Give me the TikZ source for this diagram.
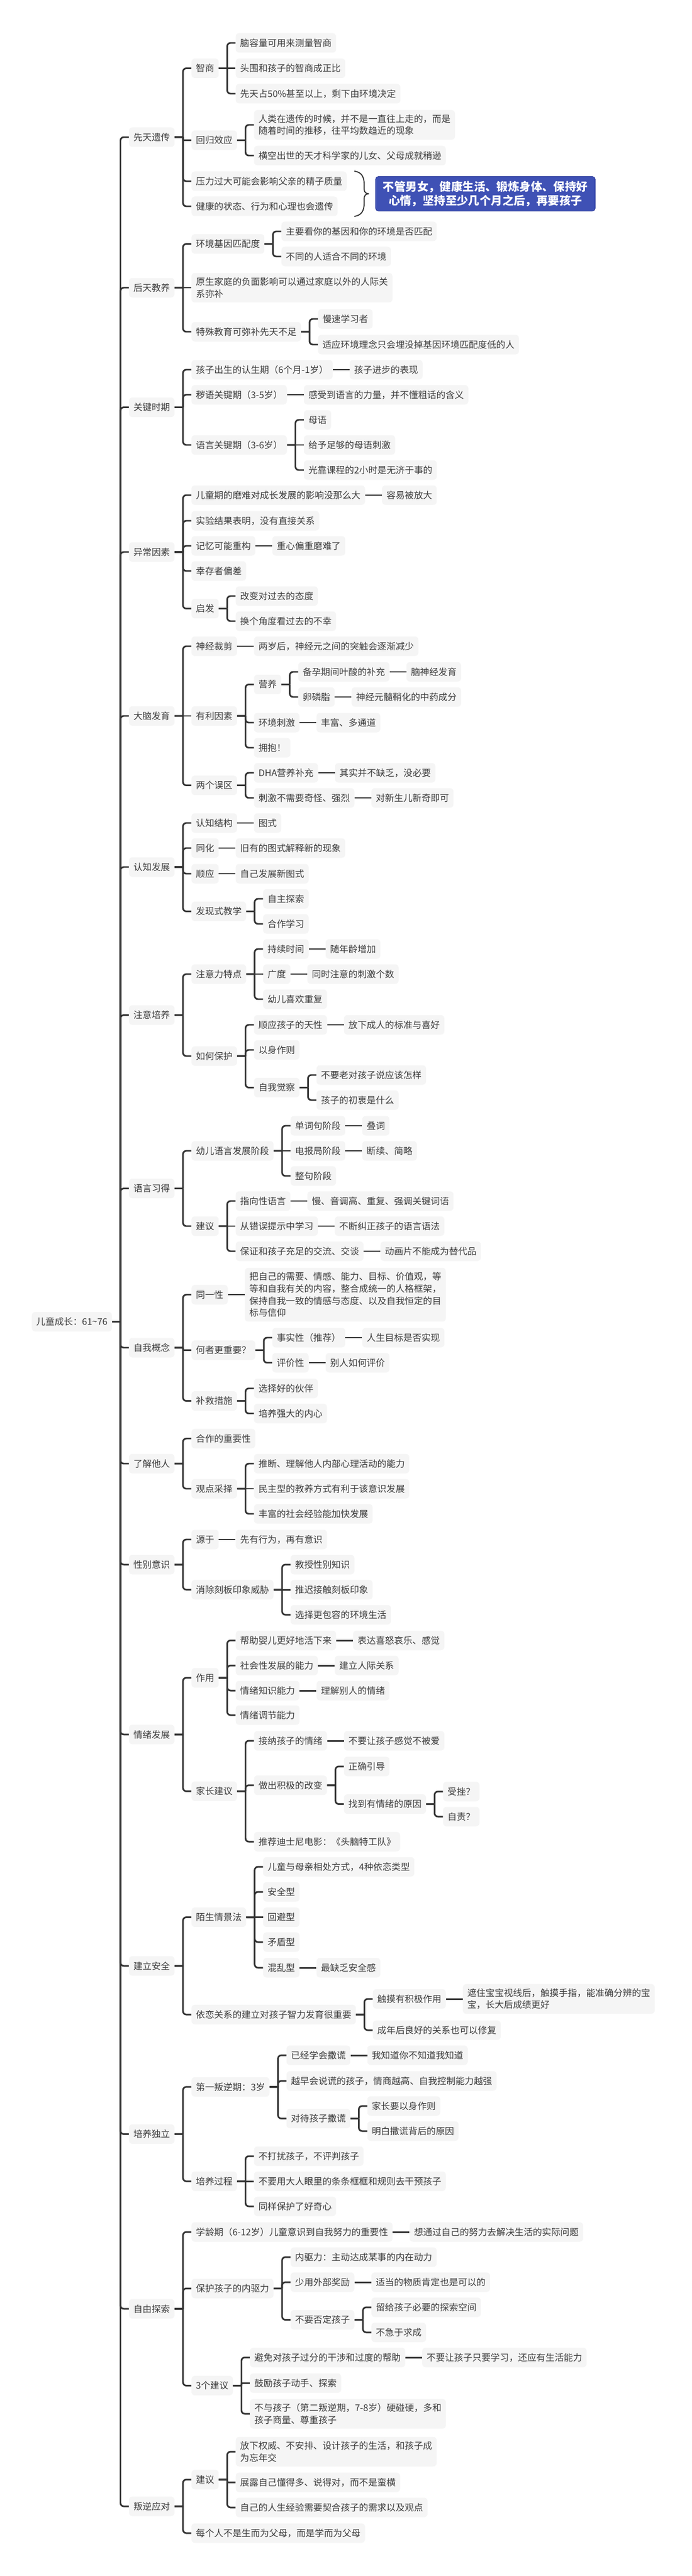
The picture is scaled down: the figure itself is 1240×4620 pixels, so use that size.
\documentclass[tikz,border=0pt]{standalone}
\usepackage{fontspec}
\newfontfamily\cjk{Noto Sans CJK SC}
\usetikzlibrary{calc}
\definecolor{boxbg}{HTML}{F5F5F5}
\definecolor{txt}{HTML}{3C3C3C}
\definecolor{ln}{HTML}{333333}
\definecolor{noteblue}{HTML}{3F51B5}
\definecolor{noteedge}{HTML}{2F3E9E}
\tikzset{
  box/.style={fill=boxbg, rounded corners=4.5pt, text=txt,
    font=\cjk\fontsize{12.3}{16.3}\selectfont, align=left,
    inner xsep=6pt, inner ysep=6pt, minimum height=26.25pt},
  conn/.style={draw=ln, line width=2.2pt},
  bracel/.style={draw=ln, line width=1.4pt, line cap=round},
  notebox/.style={fill=noteblue, draw=noteedge, line width=0.8pt, rounded corners=4pt,
    text=white, font=\cjk\bfseries\fontsize{15.3}{18.8}\selectfont, align=center,
    inner xsep=10pt, inner ysep=6pt, minimum height=46.5pt}
}
% child at explicit y, curved elbow connector
\newcommand{\mmn}[5][4.5pt]{%
  \node[box,anchor=west] (#2) at ($(#3.east|-0,#4)+(30,0)$) {#5};
  \draw[conn,rounded corners=#1] (#3.east) -- ++(15,0) ++(0,0) |- (#2.west);}
% child at the parent's height, straight connector
\newcommand{\mms}[3]{%
  \node[box,anchor=west] (#1) at ($(#2.east)+(30,0)$) {#3};
  \draw[conn] (#2.east) -- (#1.west);}
\begin{document}
\begin{tikzpicture}[x=0.75pt,y=-0.75pt]
\useasboundingbox (0,0) rectangle (1240,4620);
\node[box,anchor=east] (root) at (201,2370.5) {儿童成长：61\textasciitilde 76};
% level 1
\mmn{a}{root}{246}{先天遗传}
\mmn{b}{root}{516}{后天教养}
\mmn{c}{root}{730.5}{关键时期}
\mmn{d}{root}{990}{异常因素}
\mmn{e}{root}{1284}{大脑发育}
\mmn{f}{root}{1555}{认知发展}
\mmn{g}{root}{1820.5}{注意培养}
\mmn{h}{root}{2131.5}{语言习得}
\mmn{i}{root}{2417}{自我概念}
\mmn{j}{root}{2625}{了解他人}
\mmn{k}{root}{2806}{性别意识}
\mmn{l}{root}{3110.75}{情绪发展}
\mmn{m}{root}{3525.75}{建立安全}
\mmn{n}{root}{3827.4}{培养独立}
\mmn{o}{root}{4140.75}{自由探索}
\mmn{p}{root}{4495}{叛逆应对}
% 先天遗传
\mmn{a1}{a}{122.5}{智商}
\mmn[1.5pt]{a2}{a}{251.5}{回归效应}
\mmn{a3}{a}{325}{压力过大可能会影响父亲的精子质量}
\mmn{a4}{a}{370}{健康的状态、行为和心理也会遗传}
\mmn{a11}{a1}{77}{脑容量可用来测量智商}
\mms{a12}{a1}{头围和孩子的智商成正比}
\mmn{a13}{a1}{168}{先天占50\%甚至以上，剩下由环境决定}
\mmn{a21}{a2}{224}{人类在遗传的时候，并不是一直往上走的，而是\\随着时间的推移，往平均数趋近的现象}
\mmn{a22}{a2}{279}{横空出世的天才科学家的儿女、父母成就稍逊}
\coordinate (brT) at (636,307);
\coordinate (brM) at (661,347.5);
\coordinate (brB) at (636,388);
\draw[bracel] (brT) .. controls (649,309) and (653,318) .. (653,330) -- (653,339) .. controls (653,344) and (656,347.5) .. (brM);
\draw[bracel] (brM) .. controls (656,347.5) and (653,351) .. (653,356) -- (653,365) .. controls (653,377) and (649,386) .. (brB);
\node[notebox,anchor=west] (note) at (673,347.5) {不管男女，健康生活、锻炼身体、保持好\\心情，坚持至少几个月之后，再要孩子};
% 后天教养
\mmn{b1}{b}{437.5}{环境基因匹配度}
\mms{b2}{b}{原生家庭的负面影响可以通过家庭以外的人际关\\系弥补}
\mmn{b3}{b}{595}{特殊教育可弥补先天不足}
\mmn{b11}{b1}{415}{主要看你的基因和你的环境是否匹配}
\mmn{b12}{b1}{460}{不同的人适合不同的环境}
\mmn{b31}{b3}{572}{慢速学习者}
\mmn{b32}{b3}{618}{适应环境理念只会埋没掉基因环境匹配度低的人}
% 关键时期
\mmn{c1}{c}{663}{孩子出生的认生期（6个月-1岁）}
\mmn{c2}{c}{708}{秽语关键期（3-5岁）}
\mmn{c3}{c}{798}{语言关键期（3-6岁）}
\mms{c11}{c1}{孩子进步的表现}
\mms{c21}{c2}{感受到语言的力量，并不懂粗话的含义}
\mmn{c31}{c3}{753}{母语}
\mms{c32}{c3}{给予足够的母语刺激}
\mmn{c33}{c3}{843}{光靠课程的2小时是无济于事的}
% 异常因素
\mmn{d1}{d}{888}{儿童期的磨难对成长发展的影响没那么大}
\mmn{d2}{d}{934}{实验结果表明，没有直接关系}
\mmn{d3}{d}{979}{记忆可能重构}
\mmn{d4}{d}{1024}{幸存者偏差}
\mmn{d5}{d}{1091.5}{启发}
\mms{d11}{d1}{容易被放大}
\mms{d31}{d3}{重心偏重磨难了}
\mmn{d51}{d5}{1069}{改变对过去的态度}
\mmn{d52}{d5}{1114}{换个角度看过去的不幸}
% 大脑发育
\mmn{e1}{e}{1159}{神经裁剪}
\mms{e2}{e}{有利因素}
\mmn{e3}{e}{1408.5}{两个误区}
\mms{e11}{e1}{两岁后，神经元之间的突触会逐渐减少}
\mmn{e21}{e2}{1227.5}{营养}
\mmn{e22}{e2}{1296}{环境刺激}
\mmn{e23}{e2}{1341}{拥抱！}
\mmn{e211}{e21}{1205}{备孕期间叶酸的补充}
\mmn{e212}{e21}{1250}{卵磷脂}
\mms{e2111}{e211}{脑神经发育}
\mms{e2121}{e212}{神经元髓鞘化的中药成分}
\mms{e221}{e22}{丰富、多通道}
\mmn{e31}{e3}{1386}{DHA营养补充}
\mmn{e32}{e3}{1431}{刺激不需要奇怪、强烈}
\mms{e311}{e31}{其实并不缺乏，没必要}
\mms{e321}{e32}{对新生儿新奇即可}
% 认知发展
\mmn{f1}{f}{1476}{认知结构}
\mmn{f2}{f}{1521}{同化}
\mmn{f3}{f}{1567}{顺应}
\mmn{f4}{f}{1634.5}{发现式教学}
\mms{f11}{f1}{图式}
\mms{f21}{f2}{旧有的图式解释新的现象}
\mms{f31}{f3}{自己发展新图式}
\mmn{f41}{f4}{1612}{自主探索}
\mmn{f42}{f4}{1657}{合作学习}
% 注意培养
\mmn{g1}{g}{1747}{注意力特点}
\mmn{g2}{g}{1894}{如何保护}
\mmn{g11}{g1}{1702}{持续时间}
\mms{g12}{g1}{广度}
\mmn{g13}{g1}{1792}{幼儿喜欢重复}
\mms{g111}{g11}{随年龄增加}
\mms{g121}{g12}{同时注意的刺激个数}
\mmn{g21}{g2}{1838}{顺应孩子的天性}
\mmn{g22}{g2}{1883}{以身作则}
\mmn{g23}{g2}{1950.5}{自我觉察}
\mms{g211}{g21}{放下成人的标准与喜好}
\mmn{g231}{g23}{1928}{不要老对孩子说应该怎样}
\mmn{g232}{g23}{1973}{孩子的初衷是什么}
% 语言习得
\mmn{h1}{h}{2064}{幼儿语言发展阶段}
\mmn{h2}{h}{2199}{建议}
\mmn{h11}{h1}{2019}{单词句阶段}
\mms{h12}{h1}{电报局阶段}
\mmn{h13}{h1}{2109}{整句阶段}
\mms{h111}{h11}{叠词}
\mms{h121}{h12}{断续、简略}
\mmn{h21}{h2}{2154}{指向性语言}
\mms{h22}{h2}{从错误提示中学习}
\mmn{h23}{h2}{2244}{保证和孩子充足的交流、交谈}
\mms{h211}{h21}{慢、音调高、重复、强调关键词语}
\mms{h221}{h22}{不断纠正孩子的语言语法}
\mms{h231}{h23}{动画片不能成为替代品}
% 自我概念
\mmn{i1}{i}{2322}{同一性}
\mmn[1.5pt]{i2}{i}{2421.5}{何者更重要？}
\mmn{i3}{i}{2512.5}{补救措施}
\mms{i11}{i1}{把自己的需要、情感、能力、目标、价值观，等\\等和自我有关的内容，整合成统一的人格框架，\\保持自我一致的情感与态度、以及自我恒定的目\\标与信仰}
\mmn{i21}{i2}{2399}{事实性（推荐）}
\mmn{i22}{i2}{2444}{评价性}
\mms{i211}{i21}{人生目标是否实现}
\mms{i221}{i22}{别人如何评价}
\mmn{i31}{i3}{2490}{选择好的伙伴}
\mmn{i32}{i3}{2535}{培养强大的内心}
% 了解他人
\mmn{j1}{j}{2580}{合作的重要性}
\mmn{j2}{j}{2670}{观点采择}
\mmn{j21}{j2}{2625}{推断、理解他人内部心理活动的能力}
\mms{j22}{j2}{民主型的教养方式有利于该意识发展}
\mmn{j23}{j2}{2715}{丰富的社会经验能加快发展}
% 性别意识
\mmn{k1}{k}{2761}{源于}
\mmn{k2}{k}{2851}{消除刻板印象威胁}
\mms{k11}{k1}{先有行为，再有意识}
\mmn{k21}{k2}{2806}{教授性别知识}
\mms{k22}{k2}{推迟接触刻板印象}
\mmn{k23}{k2}{2896}{选择更包容的环境生活}
% 情绪发展
\mmn{l1}{l}{3009}{作用}
\mmn{l2}{l}{3212.5}{家长建议}
\mmn{l11}{l1}{2942}{帮助婴儿更好地活下来}
\mmn{l12}{l1}{2987}{社会性发展的能力}
\mmn{l13}{l1}{3032}{情绪知识能力}
\mmn{l14}{l1}{3076}{情绪调节能力}
\mms{l111}{l11}{表达喜怒哀乐、感觉}
\mms{l121}{l12}{建立人际关系}
\mms{l131}{l13}{理解别人的情绪}
\mmn{l21}{l2}{3122}{接纳孩子的情绪}
\mmn{l22}{l2}{3201.75}{做出积极的改变}
\mmn{l23}{l2}{3303}{推荐迪士尼电影：《头脑特工队》}
\mms{l211}{l21}{不要让孩子感觉不被爱}
\mmn{l221}{l22}{3168}{正确引导}
\mmn{l222}{l22}{3235.5}{找到有情绪的原因}
\mmn{l2221}{l222}{3213}{受挫？}
\mmn{l2222}{l222}{3258}{自责？}
% 建立安全
\mmn{m1}{m}{3438.5}{陌生情景法}
\mmn{m2}{m}{3613}{依恋关系的建立对孩子智力发育很重要}
\mmn{m11}{m1}{3348}{儿童与母亲相处方式，4种依恋类型}
\mmn{m12}{m1}{3393}{安全型}
\mms{m13}{m1}{回避型}
\mmn{m14}{m1}{3483}{矛盾型}
\mmn{m15}{m1}{3529}{混乱型}
\mms{m151}{m15}{最缺乏安全感}
\mmn{m21}{m2}{3585}{触摸有积极作用}
\mmn{m22}{m2}{3641}{成年后良好的关系也可以修复}
\mms{m211}{m21}{遮住宝宝视线后，触摸手指，能准确分辨的宝\\宝，长大后成绩更好}
% 培养独立
\mmn{n1}{n}{3742.75}{第一叛逆期：3岁}
\mmn{n2}{n}{3912}{培养过程}
\mmn{n11}{n1}{3686}{已经学会撒谎}
\mmn{n12}{n1}{3732}{越早会说谎的孩子，情商越高、自我控制能力越强}
\mmn{n13}{n1}{3799.5}{对待孩子撒谎}
\mms{n111}{n11}{我知道你不知道我知道}
\mmn{n131}{n13}{3777}{家长要以身作则}
\mmn{n132}{n13}{3822}{明白撒谎背后的原因}
\mmn{n21}{n2}{3867}{不打扰孩子，不评判孩子}
\mms{n22}{n2}{不要用大人眼里的条条框框和规则去干预孩子}
\mmn{n23}{n2}{3957}{同样保护了好奇心}
% 自由探索
\mmn{o1}{o}{4003}{学龄期（6-12岁）儿童意识到自我努力的重要性}
\mmn{o2}{o}{4104.25}{保护孩子的内驱力}
\mmn{o3}{o}{4278.5}{3个建议}
\mms{o11}{o1}{想通过自己的努力去解决生活的实际问题}
\mmn{o21}{o2}{4048}{内驱力：主动达成某事的内在动力}
\mmn{o22}{o2}{4093}{少用外部奖励}
\mmn{o23}{o2}{4160.5}{不要否定孩子}
\mms{o221}{o22}{适当的物质肯定也是可以的}
\mmn{o231}{o23}{4138}{留给孩子必要的探索空间}
\mmn{o232}{o23}{4183}{不急于求成}
\mmn{o31}{o3}{4228}{避免对孩子过分的干涉和过度的帮助}
\mmn[1.5pt]{o32}{o3}{4274}{鼓励孩子动手、探索}
\mmn{o33}{o3}{4329}{不与孩子（第二叛逆期，7-8岁）硬碰硬，多和\\孩子商量、尊重孩子}
\mms{o311}{o31}{不要让孩子只要学习，还应有生活能力}
% 叛逆应对
\mmn{p1}{p}{4447}{建议}
\mmn{p2}{p}{4543}{每个人不是生而为父母，而是学而为父母}
\mmn{p11}{p1}{4397}{放下权威、不安排、设计孩子的生活，和孩子成\\为忘年交}
\mmn[1.5pt]{p12}{p1}{4452}{展露自己懂得多、说得对，而不是蛮横}
\mmn{p13}{p1}{4497}{自己的人生经验需要契合孩子的需求以及观点}
\end{tikzpicture}
\end{document}
